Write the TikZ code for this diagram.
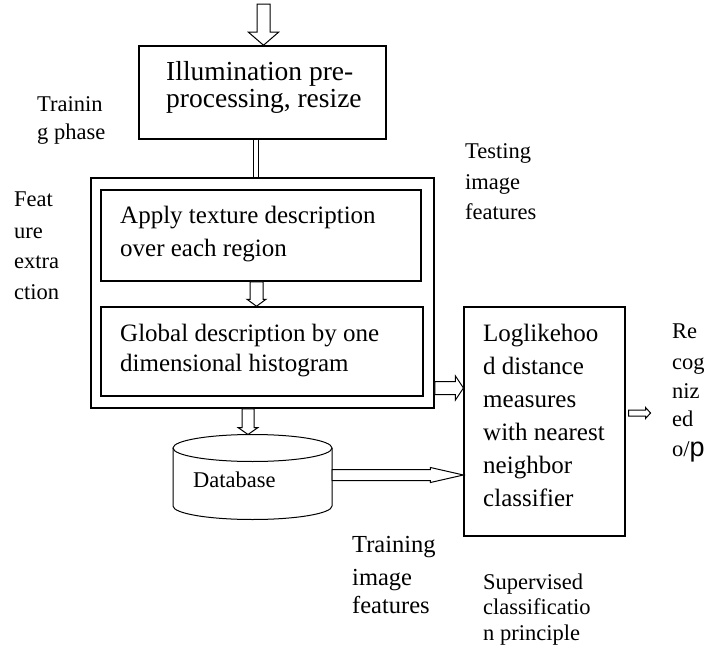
\documentclass[tikz,border=0pt]{standalone}
\usepackage{fontspec}
\setmainfont{Liberation Serif}
\newfontfamily\arialf{Liberation Sans}
\usetikzlibrary{calc}
\newcommand\blkarrow[5]{%
  \coordinate (hb) at ($(#2)!#5!(#1)$);
  \draw[blockarr] ($(#1)!#3!90:(#2)$) -- ($(hb)!#3!90:(#2)$) -- ($(hb)!#4!90:(#2)$) -- (#2)
    -- ($(hb)!#4!-90:(#2)$) -- ($(hb)!#3!-90:(#2)$) -- ($(#1)!#3!-90:(#2)$) -- cycle;}
\begin{document}
\begin{tikzpicture}[x=1pt,y=-1pt]
\tikzset{
  boxA/.style={draw, line width=1.5pt, inner sep=0pt},
  boxB/.style={draw, line width=1.1pt, inner sep=0pt},
  bt/.style={anchor=base west, inner sep=0pt, font=\fontsize{25}{30}\selectfont},
  btl/.style={anchor=base west, inner sep=0pt, font=\fontsize{27.5}{32}\selectfont},
  lb/.style={anchor=base west, inner sep=0pt, font=\fontsize{22.5}{27}\selectfont},
  lbbig/.style={anchor=base west, inner sep=0pt, font=\fontsize{24.5}{29}\selectfont},
  blockarr/.style={draw, fill=white, line width=1pt, line join=miter},
}
\useasboundingbox (0,0) rectangle (704,647);

% boxes
\node[boxA, minimum width=247pt, minimum height=93pt] (b1) at (262.5,92.5) {};
\node[boxA, minimum width=343pt, minimum height=230pt] (outer) at (262.5,293) {};
\node[boxA, minimum width=320pt, minimum height=91pt] (ia) at (261,235.5) {};
\node[boxA, minimum width=322pt, minimum height=89pt] (ib) at (262,351.5) {};
\node[boxB, minimum width=161pt, minimum height=229pt] (rb) at (544.5,421.5) {};

% box texts
\node[btl] (t1a) at (166,81) {Illumination pre-};
\node[btl] (t1b) at (166,108) {processing, resize};
\node[bt] (taa) at (120,223) {Apply texture description};
\node[bt] (tab) at (120,256) {over each region};
\node[bt] (tba) at (120,341) {Global description by one};
\node[bt] (tbb) at (120,371) {dimensional histogram};
\node[bt] (r1) at (483,341) {Loglikehoo};
\node[bt] (r2) at (483,374) {d distance};
\node[bt] (r3) at (483,407) {measures};
\node[bt] (r4) at (483,440) {with nearest};
\node[bt] (r5) at (483,473) {neighbor};
\node[bt] (r6) at (483,506) {classifier};

% database cylinder
\draw[line width=1pt, fill=white] (173,448) -- (173,506)
  arc[start angle=180, end angle=360, x radius=79.5pt, y radius=13.5pt] -- (332,448);
\draw[line width=1pt] (252.5,448) ellipse [x radius=79.5pt, y radius=13.5pt];
\coordinate (dbtop) at (248,434.5);
\coordinate (dbr) at (332,475);
\node[lb] (dbt) at (193,487) {Database};

% labels
\node[lb] (tr1) at (37,112) {Trainin};
\node[lb] (tr2) at (37,140) {g phase};
\node[lb] (fe1) at (14,207) {Feat};
\node[lb] (fe2) at (14,239) {ure};
\node[lb] (fe3) at (14,269) {extra};
\node[lb] (fe4) at (14,299) {ction};
\node[lb] (te1) at (465,159) {Testing};
\node[lb] (te2) at (465,190) {image};
\node[lb] (te3) at (465,220) {features};
\node[lb] (re1) at (672,338) {Re};
\node[lb] (re2) at (672,369) {cog};
\node[lb] (re3) at (672,398) {niz};
\node[lb] (re4) at (672,426) {ed};
\node[lb] (re5) at (672,456) {o/{\arialf\fontsize{27}{30}\selectfont p}};
\node[lbbig] (ti1) at (352,552) {Training};
\node[lbbig] (ti2) at (352,585) {image};
\node[lbbig] (ti3) at (352,613) {features};
\node[lb] (su1) at (483,589) {Supervised};
\node[lb] (su2) at (483,614) {classificatio};
\node[lb] (su3) at (483,640) {n principle};

% connectors
\coordinate (src) at ([xshift=1pt,yshift=41pt]b1.north);
\blkarrow{src}{[xshift=1pt]b1.north}{6.5pt}{15pt}{13pt}
\draw[double, double distance=3.5pt, line width=1pt] ([xshift=-6.5pt]b1.south) -- ([xshift=-6.5pt]outer.north);
\blkarrow{[xshift=-4.5pt]ia.south}{[xshift=-5.5pt]ib.north}{6.5pt}{9.5pt}{7pt}
\blkarrow{[xshift=-14.5pt]outer.south}{dbtop}{6pt}{10pt}{7pt}
\coordinate (oe) at ($(outer.east)+(0,95)$);
\blkarrow{oe}{rb.west |- oe}{6.5pt}{12pt}{8pt}
\blkarrow{dbr}{rb.west |- dbr}{5.5pt}{7.5pt}{33pt}
\coordinate (oo) at ($(rb.east)+(3,-8.5)$);
\coordinate (oend) at ($(oo)+(22,0)$);
\blkarrow{oo}{oend}{3pt}{5.5pt}{5pt}
\end{tikzpicture}
\end{document}
